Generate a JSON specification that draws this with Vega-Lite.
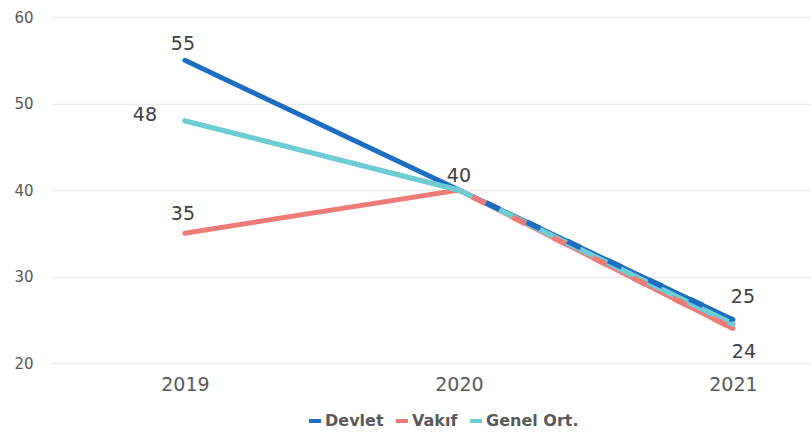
{
  "$schema": "https://vega.github.io/schema/vega-lite/v6.json",
  "width": 759,
  "height": 346,
  "autosize": {"type": "none"},
  "padding": {"left": 52, "top": 17, "right": 0, "bottom": 76},
  "background": "white",
  "config": {
    "view": {"stroke": null},
    "font": "DejaVu Sans"
  },
  "data": {
    "values": [
      {"series": "Devlet", "year": 2019, "v": 55},
      {"series": "Devlet", "year": 2020, "v": 40},
      {"series": "Devlet", "year": 2021, "v": 25},
      {"series": "Vakıf", "year": 2019, "v": 35},
      {"series": "Vakıf", "year": 2020, "v": 40},
      {"series": "Vakıf", "year": 2021, "v": 24},
      {"series": "Genel Ort.", "year": 2019, "v": 48},
      {"series": "Genel Ort.", "year": 2020, "v": 40},
      {"series": "Genel Ort.", "year": 2021, "v": 24.5}
    ]
  },
  "encoding": {
    "x": {
      "field": "year", "type": "quantitative",
      "scale": {"domain": [2018.515, 2021.285], "nice": false, "zero": false},
      "axis": {
        "title": null, "values": [2019, 2020, 2021], "format": "d",
        "grid": false, "domain": false, "ticks": false,
        "labelFontSize": 19, "labelColor": "#595959", "labelPadding": 12
      }
    },
    "y": {
      "field": "v", "type": "quantitative",
      "scale": {"domain": [20, 60], "nice": false, "zero": false},
      "axis": {
        "title": null, "values": [20, 30, 40, 50, 60],
        "domain": false, "ticks": false, "gridColor": "#ebebeb", "gridWidth": 1.5,
        "labelFontSize": 15, "labelColor": "#595959", "labelPadding": 19
      }
    }
  },
  "layer": [
    {
      "mark": {"type": "line", "strokeWidth": 5, "strokeCap": "round"},
      "encoding": {
        "color": {
          "field": "series", "type": "nominal",
          "scale": {"domain": ["Devlet", "Vakıf", "Genel Ort."], "range": ["#1c6ec2", "#ef7b77", "#6dcdd3"]},
          "legend": {
            "title": null, "orient": "none", "direction": "horizontal",
            "legendX": 255, "legendY": 396, "padding": 0,
            "symbolType": "stroke", "symbolSize": 144, "symbolStrokeWidth": 4,
            "labelFontSize": 16, "labelFontWeight": "bold", "labelColor": "#595959",
            "labelOffset": 2, "columnPadding": 4
          }
        }
      }
    },
    {
      "transform": [{"filter": "datum.series === 'Genel Ort.'"}],
      "mark": {"type": "line", "strokeWidth": 5, "strokeCap": "round", "color": "#6dcdd3"},
      "encoding": {}
    },
    {
      "transform": [{"filter": "datum.series === 'Vakıf' && datum.year >= 2020"}],
      "mark": {"type": "line", "strokeWidth": 5.5, "strokeCap": "butt", "color": "#ef7b77", "strokeDash": [15, 30], "strokeDashOffset": 30},
      "encoding": {}
    },
    {
      "transform": [{"filter": "datum.series === 'Devlet' && datum.year >= 2020"}],
      "mark": {"type": "line", "strokeWidth": 5.5, "strokeCap": "butt", "color": "#1c6ec2", "strokeDash": [15, 30], "strokeDashOffset": 15},
      "encoding": {}
    },
    {
      "transform": [{"filter": "datum.series === 'Devlet' && datum.year === 2019"}],
      "mark": {"type": "text", "fontSize": 19, "color": "#404040", "dy": -16, "dx": -2},
      "encoding": {"text": {"field": "v"}}
    },
    {
      "transform": [{"filter": "datum.series === 'Vakıf' && datum.year === 2019"}],
      "mark": {"type": "text", "fontSize": 19, "color": "#404040", "dy": -19, "dx": -2},
      "encoding": {"text": {"field": "v"}}
    },
    {
      "transform": [{"filter": "datum.series === 'Devlet' && datum.year === 2020"}],
      "mark": {"type": "text", "fontSize": 19, "color": "#404040", "dy": -14},
      "encoding": {"text": {"field": "v"}}
    },
    {
      "transform": [{"filter": "datum.series === 'Genel Ort.' && datum.year === 2019"}],
      "mark": {"type": "text", "fontSize": 19, "color": "#404040", "dx": -40, "dy": -6},
      "encoding": {"text": {"field": "v"}}
    },
    {
      "transform": [{"filter": "datum.series === 'Devlet' && datum.year === 2021"}],
      "mark": {"type": "text", "fontSize": 19, "color": "#404040", "dx": 10, "dy": -23},
      "encoding": {"text": {"field": "v"}}
    },
    {
      "transform": [{"filter": "datum.series === 'Vakıf' && datum.year === 2021"}],
      "mark": {"type": "text", "fontSize": 19, "color": "#404040", "dx": 11, "dy": 24},
      "encoding": {"text": {"field": "v"}}
    }
  ]
}
